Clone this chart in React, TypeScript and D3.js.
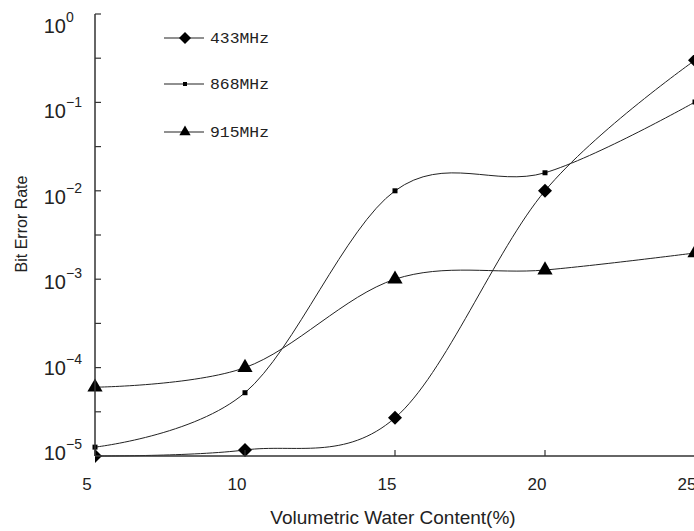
import React from "react";
import * as d3 from "d3";

const xValues = [5, 10, 15, 20, 25];
const ber433 = [1.0e-5, 1.17e-5, 2.7e-5, 1.0e-2, 0.3];
const ber868 = [1.26e-5, 5.2e-5, 1.0e-2, 1.6e-2, 0.101];
const ber915 = [6.0e-5, 1.0e-4, 1.0e-3, 1.27e-3, 1.98e-3];
const seriesNames = ["433MHz", "868MHz", "915MHz"];
const xTicks = [5, 10, 15, 20, 25];
const yExponents = [0, -1, -2, -3, -4, -5];
const xTitle = "Volumetric Water Content(%)";
const yTitle = "Bit Error Rate";

const W = 694;
const H = 531;
const INK = "#222";

export default function App() {
  const x = d3.scaleLinear().domain([5, 25]).range([95, 695]);
  const y = d3.scaleLog().domain([1e-5, 1]).range([456, 14]);
  // label baselines in the source are spaced slightly differently from the ticks
  const labelY = d3.scaleLinear().domain([0, -5]).range([33, 460]);

  const series = [
    { name: seriesNames[0], values: ber433, symbol: d3.symbolSquare, size: 98, rot: 45, lsize: 72, clip: true },
    { name: seriesNames[1], values: ber868, symbol: d3.symbolSquare, size: 25, rot: 0, lsize: 16, clip: false },
    { name: seriesNames[2], values: ber915, symbol: d3.symbolTriangle, size: 100, rot: 0, lsize: 55, clip: false },
  ];

  const line = d3
    .line<[number, number]>()
    .x((d) => x(d[0]))
    .y((d) => y(d[1]))
    .curve(d3.curveCardinal.tension(0));

  const minorTicks = yExponents.slice(1).map((e) => Math.pow(10, e + 0.5));
  const legendY = [38, 84, 132];

  return (
    <svg
      width={W}
      height={H}
      style={{ position: "absolute", left: 0, top: 0, background: "#fff" }}
    >
      <defs>
        <clipPath id="clipLeft">
          <rect x={95} y={0} width={W} height={H} />
        </clipPath>
      </defs>
      <rect x={0} y={0} width={W} height={H} fill="#fff" />

      {/* series lines */}
      {series.map((s) => (
        <path
          key={s.name + "-line"}
          d={line(xValues.map((xv, i) => [xv, s.values[i]] as [number, number])) || ""}
          fill="none"
          stroke={INK}
          strokeWidth={1}
        />
      ))}

      {/* markers */}
      {series.map((s) => (
        <g key={s.name + "-marks"} clipPath={s.clip ? "url(#clipLeft)" : undefined}>
          {xValues.map((xv, i) => (
            <path
              key={i}
              d={d3.symbol().type(s.symbol).size(s.size)() || ""}
              transform={`translate(${x(xv)},${y(s.values[i])}) rotate(${s.rot})`}
              fill="#000"
            />
          ))}
        </g>
      ))}

      {/* axes */}
      <line x1={95} x2={95} y1={14} y2={456} stroke="#333" strokeWidth={1.5} />
      <line x1={95} x2={W} y1={456} y2={456} stroke="#333" strokeWidth={1.5} />
      {yExponents.map((e) => (
        <line key={"yt" + e} x1={95} x2={101} y1={y(Math.pow(10, e))} y2={y(Math.pow(10, e))} stroke="#333" strokeWidth={1.2} />
      ))}
      {minorTicks.map((v, i) => (
        <line key={"ym" + i} x1={95} x2={101} y1={y(v)} y2={y(v)} stroke="#333" strokeWidth={1.2} />
      ))}
      {xTicks.map((t) => (
        <line key={"xt" + t} x1={x(t)} x2={x(t)} y1={456} y2={450} stroke="#333" strokeWidth={1.2} />
      ))}

      {/* y tick labels */}
      {yExponents.map((e) => (
        <text
          key={"yl" + e}
          x={66}
          y={labelY(e)}
          textAnchor="end"
          fontFamily="Liberation Sans, Arial, sans-serif"
          fontSize={20}
          fill={INK}
        >
          10
        </text>
      ))}
      {yExponents.map((e) => (
        <text
          key={"ye" + e}
          x={66}
          y={labelY(e) - 11}
          fontFamily="Liberation Sans, Arial, sans-serif"
          fontSize={14}
          fill={INK}
        >
          {e === 0 ? "0" : "\u2212" + Math.abs(e)}
        </text>
      ))}

      {/* x tick labels */}
      {xTicks.map((t) => (
        <text
          key={"xl" + t}
          x={x(t) - 8}
          y={490}
          textAnchor="middle"
          fontFamily="Liberation Sans, Arial, sans-serif"
          fontSize={17}
          fill={INK}
        >
          {t}
        </text>
      ))}

      {/* axis titles */}
      <text
        x={393}
        y={524}
        textAnchor="middle"
        fontFamily="Liberation Sans, Arial, sans-serif"
        fontSize={19}
        fill={INK}
      >
        {xTitle}
      </text>
      <text
        transform="translate(27,224) rotate(-90)"
        textAnchor="middle"
        fontFamily="Liberation Sans, Arial, sans-serif"
        fontSize={16}
        fill={INK}
      >
        {yTitle}
      </text>

      {/* legend */}
      {series.map((s, i) => (
        <g key={s.name + "-leg"} transform={`translate(0,${legendY[i]})`}>
          <line x1={164} x2={204} y1={0} y2={0} stroke={INK} strokeWidth={1.2} />
          <path
            d={d3.symbol().type(s.symbol).size(s.lsize)() || ""}
            transform={`translate(185,0) rotate(${s.rot})`}
            fill="#000"
          />
          <text
            x={210}
            y={5}
            fontFamily="Liberation Mono, DejaVu Sans Mono, monospace"
            fontSize={14}
            textLength={59}
            lengthAdjust="spacingAndGlyphs"
            fill={INK}
          >
            {s.name}
          </text>
        </g>
      ))}
    </svg>
  );
}
